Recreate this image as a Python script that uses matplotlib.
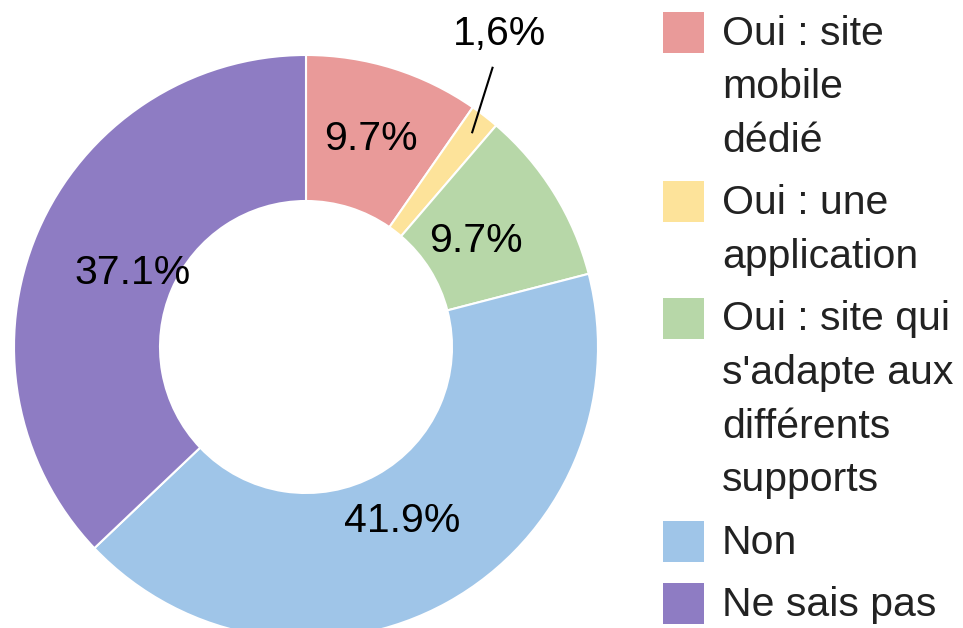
import matplotlib
matplotlib.use("Agg")
import matplotlib.pyplot as plt
import matplotlib.patches as mpatches
import numpy as np

plt.rcParams['font.family'] = ['Liberation Sans', 'DejaVu Sans']

# Data
labels = ["Oui : site\nmobile\ndédié",
          "Oui : une\napplication",
          "Oui : site qui\ns'adapte aux\ndifférents\nsupports",
          "Non",
          "Ne sais pas"]
counts = [6, 1, 6, 26, 23]
colors = ["#E99A99", "#FDE39A", "#B7D7A8", "#9FC5E8", "#8E7CC3"]

W, H, DPI = 963, 628, 100
FS = 29.5
fig = plt.figure(figsize=(W / DPI, H / DPI), dpi=DPI)

# donut axes (pixel box converted to figure fractions)
cx, cy, r = 306, 347, 292
ax = fig.add_axes([(cx - r) / W, (H - cy - r) / H, 2 * r / W, 2 * r / H])
ax.set_axis_off()

total = sum(counts)
pcts = [100 * c / total for c in counts]

def fmt(p):
    return "" if p < 5 else f"{p:.1f}%"

wedges, texts, autotexts = ax.pie(
    counts, colors=colors, startangle=90, counterclock=False,
    radius=1.0, autopct=fmt, pctdistance=0.7,
    wedgeprops=dict(width=0.5, edgecolor="white", linewidth=1.5),
    textprops=dict(fontsize=FS, color="black"))
ax.set_xlim(-1, 1)
ax.set_ylim(-1, 1)

# nudge the in-ring labels radially (label placement only)
label_r = [0.745, 0.7, 0.685, 0.68, 0.645]
for w, t, lr in zip(wedges, autotexts, label_r):
    a = np.deg2rad((w.theta1 + w.theta2) / 2)
    t.set_position((lr * np.cos(a), lr * np.sin(a)))

# small slice label outside with a leader line
small = int(np.argmin(counts))
w = wedges[small]
ang = np.deg2rad((w.theta1 + w.theta2) / 2)
x0, y0 = 0.93 * np.cos(ang), 0.93 * np.sin(ang)
x1, y1 = 1.15 * np.cos(ang + np.deg2rad(4)), 1.15 * np.sin(ang + np.deg2rad(4))
ax.plot([x0, x1], [y0, y1], color="black", lw=1.5, clip_on=False)
ax.text(1.26 * np.cos(ang + np.deg2rad(6)), 1.26 * np.sin(ang + np.deg2rad(6)),
        f"{pcts[small]:.1f}%".replace(".", ","), fontsize=FS,
        ha="center", va="center")

# legend drawn by hand so the swatch sits on the first line
base = 45
pitch, gap = 53.5, 9
for lab, col in zip(labels, colors):
    fig.add_artist(mpatches.Rectangle((663 / W, 1 - (base + 8) / H), 41 / W, 41 / H,
                                      facecolor=col, edgecolor="none",
                                      transform=fig.transFigure))
    lines = lab.split("\n")
    for k, line in enumerate(lines):
        fig.text(722 / W, 1 - (base + k * pitch) / H, line, fontsize=FS,
                 color="#222222", ha="left", va="baseline")
    base += len(lines) * pitch + gap

fig.savefig("out.png", dpi=DPI)
